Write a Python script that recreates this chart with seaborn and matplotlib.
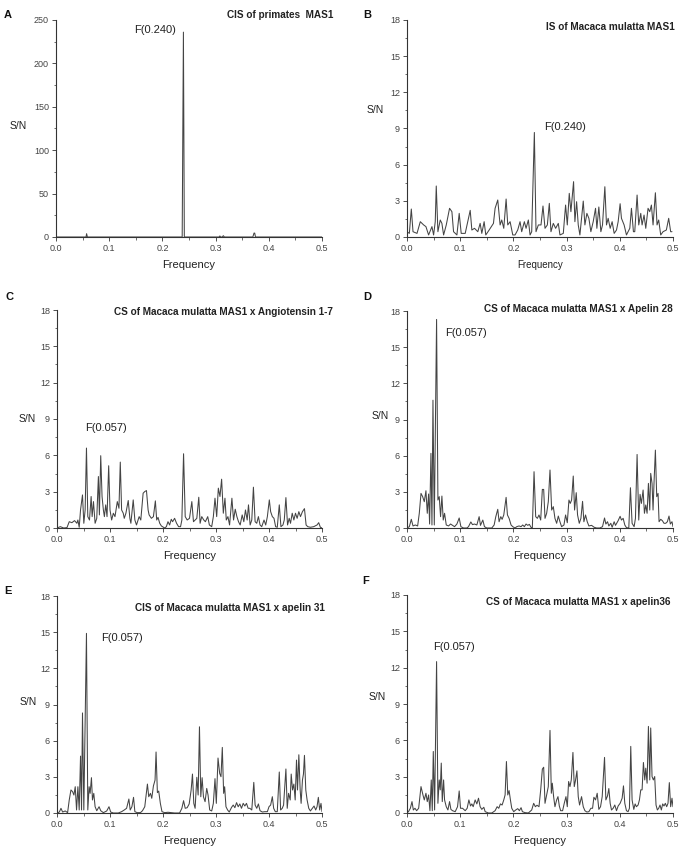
"""
Signal-to-noise spectra of MAS1 and its ligands (six panels)
"""

import matplotlib
matplotlib.use("Agg")
import matplotlib.pyplot as plt
from matplotlib.ticker import MultipleLocator
import seaborn as sns

sns.set_style("ticks")
plt.rcParams['font.family'] = ['Liberation Sans', 'DejaVu Sans']

# ---- data ----
freq_a = [0.0, 0.05, 0.0565, 0.0575, 0.059, 0.065, 0.2372, 0.2395, 0.2412, 0.30,
          0.3065, 0.308, 0.3095, 0.3125, 0.3145, 0.3165, 0.37, 0.3722, 0.3735, 0.375, 0.5]
sn_a = [0, 0, 0, 3.8, 0, 0, 0, 236, 0, 0,
        0, 1.2, 0, 0, 1.5, 0, 0, 4.5, 4.5, 0, 0]

freq_b = [0.0, 0.0044, 0.0081, 0.0113, 0.0188, 0.025, 0.0313, 0.0356, 0.0406, 0.0469,
          0.05, 0.0531, 0.055, 0.0581, 0.0625, 0.0656, 0.0688, 0.0738, 0.08, 0.0844,
          0.0875, 0.0938, 0.0981, 0.1019, 0.1094, 0.1188, 0.1219, 0.1269, 0.1331, 0.1375,
          0.1406, 0.145, 0.1481, 0.1544, 0.1625, 0.1656, 0.1706, 0.175, 0.1781, 0.1819,
          0.1863, 0.1894, 0.1938, 0.1988, 0.2031, 0.2081, 0.2125, 0.2156, 0.2206, 0.2238,
          0.2281, 0.2313, 0.2344, 0.2394, 0.2425, 0.2469, 0.2519, 0.2556, 0.2594, 0.2638,
          0.2675, 0.2706, 0.275, 0.2794, 0.2844, 0.2875, 0.2938, 0.2981, 0.3013, 0.305,
          0.3081, 0.3131, 0.3156, 0.3188, 0.3219, 0.325, 0.3313, 0.3344, 0.3381, 0.3419,
          0.3456, 0.35, 0.3544, 0.3569, 0.3606, 0.3644, 0.3675, 0.3719, 0.375, 0.3781,
          0.3819, 0.3856, 0.3894, 0.3938, 0.3969, 0.4006, 0.4031, 0.4081, 0.4125, 0.4188,
          0.4219, 0.4256, 0.4281, 0.4325, 0.4356, 0.4394, 0.4419, 0.4456, 0.4488, 0.4531,
          0.4563, 0.4594, 0.4625, 0.4669, 0.47, 0.4731, 0.4769, 0.4813, 0.4875, 0.4919,
          0.4956, 0.4981]
sn_b = [0.44, 0.30, 2.32, 0.44, 0.30, 1.27, 1.0, 0.86, 0.17, 0.86,
        0.17, 1.27, 4.23, 0.44, 1.41, 1.13, 0.17, 1.0, 2.38, 2.1,
        0.44, 0.17, 1.96, 0.3, 0.3, 2.21, 0.58, 0.72, 0.44, 1.13,
        0.3, 1.27, 0.17, 0.58, 1.13, 2.38, 3.07, 1.0, 1.41, 0.72,
        3.15, 1.0, 1.27, 0.17, 0.17, 0.58, 1.27, 0.44, 1.27, 0.72,
        1.41, 0.17, 0.44, 8.67, 0.44, 1.0, 1.0, 2.57, 0.72, 1.0,
        2.79, 0.44, 1.13, 0.72, 1.13, 0.17, 0.3, 2.65, 1.0, 3.62,
        2.1, 4.59, 1.27, 2.93, 1.0, 0.17, 2.98, 1.0, 1.96, 1.55,
        0.44, 1.27, 2.38, 0.72, 2.49, 0.44, 1.0, 4.17, 1.0, 1.55,
        0.72, 1.27, 0.3, 0.58, 1.27, 2.76, 1.55, 1.0, 0.17, 0.72,
        2.38, 0.44, 0.44, 3.48, 1.0, 1.96, 1.0, 1.82, 0.72, 2.38,
        2.1, 2.65, 1.0, 3.67, 1.0, 1.41, 0.17, 0.44, 0.58, 1.55,
        0.44, 0.44]

freq_c = [0.0, 0.0063, 0.0125, 0.0188, 0.0231, 0.0281, 0.0331, 0.0375, 0.0394, 0.0419,
          0.0444, 0.0481, 0.0506, 0.0531, 0.0556, 0.0581, 0.0613, 0.0644, 0.0663, 0.0688,
          0.0719, 0.075, 0.0781, 0.08, 0.0825, 0.085, 0.0875, 0.0894, 0.0919, 0.0944,
          0.0975, 0.1, 0.1031, 0.1063, 0.1094, 0.1138, 0.1169, 0.1194, 0.1219, 0.125,
          0.1269, 0.13, 0.1344, 0.1375, 0.1394, 0.1438, 0.1469, 0.15, 0.155, 0.1581,
          0.1625, 0.1656, 0.1688, 0.1719, 0.1738, 0.1781, 0.1819, 0.1856, 0.1881, 0.1906,
          0.1938, 0.1969, 0.2031, 0.2063, 0.2094, 0.2125, 0.2156, 0.2181, 0.2219, 0.2256,
          0.2294, 0.2331, 0.2356, 0.2388, 0.2419, 0.2456, 0.25, 0.2544, 0.2575, 0.2606,
          0.2638, 0.2675, 0.27, 0.2731, 0.2769, 0.28, 0.2844, 0.2875, 0.2919, 0.295,
          0.2981, 0.3013, 0.3044, 0.3075, 0.3106, 0.3138, 0.3169, 0.3194, 0.3225, 0.3256,
          0.33, 0.3331, 0.3363, 0.3394, 0.3425, 0.3456, 0.3494, 0.3525, 0.3556, 0.3588,
          0.3613, 0.3644, 0.3675, 0.3706, 0.3738, 0.3769, 0.38, 0.3831, 0.3863, 0.3906,
          0.3938, 0.3969, 0.4006, 0.4031, 0.4063, 0.4094, 0.4125, 0.4156, 0.4194, 0.4225,
          0.4263, 0.4288, 0.4319, 0.435, 0.4381, 0.4406, 0.4438, 0.4469, 0.45, 0.4531,
          0.4563, 0.4594, 0.4631, 0.4669, 0.47, 0.4731, 0.4781, 0.4844, 0.4906, 0.4938,
          0.4969, 0.5]
sn_c = [0, 0.11, 0, 0.03, 0.52, 0.44, 0.61, 0.39, 0.66, 0.06,
        1.49, 2.73, 0.39, 1.49, 6.6, 0.94, 0.66, 2.6, 0.94, 2.18,
        0.39, 0.8, 4.25, 1.08, 5.97, 2.6, 1.49, 0.94, 1.91, 0.94,
        5.14, 1.49, 0.66, 1.22, 0.94, 2.18, 1.63, 5.44, 1.49, 1.22,
        0.8, 1.22, 2.27, 0.8, 0.39, 2.32, 0.66, 0.25, 0.94, 0.66,
        2.87, 3.01, 3.09, 1.49, 1.08, 0.8, 0.94, 2.24, 0.66, 0.88,
        0.39, 0.17, 0, 0.11, 0.52, 0.25, 0.72, 0.52, 0.8, 0.39,
        0.11, 0.11, 0.66, 6.13, 0.94, 0.66, 0.8, 2.18, 0.52, 0.66,
        0.8, 2.54, 0.39, 0.94, 0.66, 0.52, 0.94, 0.25, 0.11, 0.94,
        2.46, 0.94, 3.29, 2.6, 4.03, 1.22, 2.46, 0.66, 0.94, 0.25,
        2.46, 0.66, 1.55, 0.94, 0.52, 0.25, 1.08, 0.52, 1.49, 0.66,
        1.91, 0.25, 0.66, 3.37, 0.52, 0.39, 0.94, 0.25, 0.11, 0.66,
        0.25, 0.94, 2.32, 1.35, 0.94, 0.8, 0.11, 0.06, 1.91, 0.11,
        0.25, 0.66, 2.51, 0.25, 0.8, 0.39, 1.22, 0.66, 1.22, 0.8,
        1.35, 0.94, 1.35, 1.6, 0.25, 0.11, 0.06, 0.11, 0.25, 0.44,
        0.06, 0]

freq_d = [0.0, 0.0044, 0.0081, 0.0113, 0.0156, 0.02, 0.0231, 0.0263, 0.0294, 0.0325,
          0.0356, 0.0381, 0.0406, 0.0425, 0.045, 0.0469, 0.0488, 0.0513, 0.0556, 0.0581,
          0.0606, 0.0631, 0.0656, 0.0681, 0.0706, 0.0738, 0.0781, 0.0819, 0.0856, 0.0894,
          0.0938, 0.0981, 0.1013, 0.1063, 0.1125, 0.1156, 0.12, 0.1231, 0.1269, 0.1313,
          0.1356, 0.1381, 0.1425, 0.1456, 0.15, 0.1594, 0.1638, 0.1669, 0.1706, 0.1731,
          0.1763, 0.1788, 0.1819, 0.1863, 0.1888, 0.1919, 0.1956, 0.1988, 0.2031, 0.2063,
          0.2106, 0.2144, 0.2175, 0.2206, 0.2238, 0.2269, 0.23, 0.2331, 0.2356, 0.2388,
          0.2419, 0.245, 0.2481, 0.2513, 0.2544, 0.2569, 0.2594, 0.2625, 0.2656, 0.2688,
          0.2719, 0.275, 0.2781, 0.2813, 0.2844, 0.2875, 0.2906, 0.295, 0.2981, 0.3013,
          0.3044, 0.3069, 0.3094, 0.3125, 0.315, 0.3181, 0.3206, 0.3238, 0.3269, 0.33,
          0.3325, 0.3356, 0.3388, 0.3419, 0.3469, 0.3519, 0.3563, 0.3625, 0.3675, 0.3713,
          0.3738, 0.3769, 0.3794, 0.3831, 0.3856, 0.3894, 0.3919, 0.3969, 0.4006, 0.4031,
          0.4063, 0.4094, 0.4125, 0.4169, 0.42, 0.4231, 0.4269, 0.4294, 0.4325, 0.4356,
          0.4381, 0.4406, 0.4438, 0.4463, 0.4488, 0.4513, 0.4538, 0.4563, 0.4581, 0.4606,
          0.4625, 0.4644, 0.4669, 0.4694, 0.4719, 0.4738, 0.4769, 0.48, 0.4831, 0.4863,
          0.4894, 0.4925, 0.495, 0.4981, 0.5]
sn_d = [0, 0.11, 0.72, 0.17, 0.25, 0.17, 1.22, 2.87, 2.6, 2.18,
        3.09, 1.22, 2.82, 0.33, 6.19, 0.25, 10.6, 0.25, 17.3, 2.32,
        2.6, 0.94, 2.65, 0.66, 1.22, 0.25, 0.17, 0.33, 0.22, 0.11,
        0.33, 0.83, 0.11, 0, 0, 0.11, 0.5, 0.28, 0.33, 0.25,
        0.94, 0.22, 0.66, 0.11, 0, 0, 0.25, 0.94, 1.55, 0.52,
        0.94, 0.72, 1.08, 2.54, 1.08, 0.8, 0.25, 0.11, 0, 0.11,
        0.17, 0.11, 0.25, 0.11, 0.33, 0.22, 0.3, 0.06, 0, 4.67,
        0.94, 0.8, 1.08, 0.66, 3.2, 3.2, 0.8, 1.22, 2.18, 4.81,
        1.49, 1.77, 0.8, 0.39, 0.99, 0.52, 0.11, 0.25, 1.08, 0.44,
        2.32, 2.04, 2.32, 4.31, 1.49, 2.93, 1.08, 0.39, 0.8, 2.21,
        0.52, 1.08, 0.52, 0.17, 0.22, 0.06, 0, 0, 0.11, 0.83,
        0.33, 0.52, 0.17, 0.39, 0.06, 0.52, 0.22, 0.61, 0.97, 0.66,
        0.8, 0.25, 0.03, 0, 3.34, 0.39, 0.11, 0.8, 6.1, 0.66,
        2.79, 2.04, 3.15, 1.22, 1.91, 1.22, 3.7, 1.49, 4.53, 3.7,
        1.49, 3.84, 6.46, 2.6, 2.87, 0.52, 0.72, 0.61, 0.39, 0.39,
        0.52, 0.99, 0.33, 0.52, 0.11]

freq_e = [0.0, 0.0044, 0.0075, 0.0106, 0.0156, 0.02, 0.0231, 0.0263, 0.0294, 0.0319,
          0.0344, 0.0369, 0.0394, 0.0419, 0.0444, 0.0463, 0.0481, 0.0506, 0.0556, 0.0581,
          0.0606, 0.0625, 0.065, 0.0669, 0.0694, 0.0719, 0.075, 0.0794, 0.0825, 0.0875,
          0.0938, 0.0981, 0.1013, 0.1063, 0.1156, 0.1219, 0.1269, 0.1313, 0.1356, 0.1381,
          0.1413, 0.1444, 0.1469, 0.1513, 0.1575, 0.1613, 0.1656, 0.1706, 0.1731, 0.1763,
          0.1788, 0.1819, 0.185, 0.1869, 0.1894, 0.1919, 0.195, 0.1981, 0.2031, 0.2094,
          0.2156, 0.2219, 0.2313, 0.2356, 0.2388, 0.2419, 0.2456, 0.2494, 0.2531, 0.2556,
          0.2581, 0.2606, 0.2638, 0.2663, 0.2688, 0.2713, 0.2738, 0.2763, 0.2794, 0.2825,
          0.285, 0.2881, 0.2919, 0.295, 0.2981, 0.3006, 0.3038, 0.3069, 0.3094, 0.3119,
          0.3144, 0.3163, 0.3188, 0.3219, 0.325, 0.3294, 0.3325, 0.3356, 0.3388, 0.3419,
          0.345, 0.3481, 0.3513, 0.3544, 0.3575, 0.3606, 0.3638, 0.3675, 0.3713, 0.3738,
          0.3769, 0.38, 0.3831, 0.3875, 0.3919, 0.3969, 0.4, 0.4031, 0.4063, 0.4088,
          0.4119, 0.4156, 0.4194, 0.4219, 0.425, 0.4275, 0.4319, 0.4344, 0.4369, 0.44,
          0.4419, 0.4444, 0.4469, 0.4494, 0.4519, 0.4538, 0.4563, 0.4588, 0.4606, 0.4631,
          0.465, 0.4669, 0.4694, 0.4719, 0.475, 0.4781, 0.4819, 0.485, 0.4881, 0.4906,
          0.4931, 0.4956, 0.4981, 0.5]
sn_e = [0, 0.08, 0.39, 0.08, 0.17, 0.03, 1.08, 1.91, 1.77, 1.49,
        2.18, 0.25, 2.18, 0.25, 4.72, 0.25, 8.3, 0.25, 14.9, 0.25,
        2.18, 1.63, 2.93, 1.08, 1.63, 0.52, 0.19, 0.52, 0.19, 0.03,
        0.17, 0.52, 0.08, 0, 0, 0.11, 0.25, 0.39, 1.16, 0.25,
        0.52, 1.3, 0.11, 0.03, 0.03, 0.19, 0.52, 2.4, 1.35, 1.63,
        1.22, 2.24, 2.73, 5.06, 1.69, 1.82, 0.8, 0.11, 0.03, 0.06,
        0.03, 0, 0, 0.39, 1.02, 0.39, 0.44, 0.75, 1.91, 3.23,
        0.8, 0.39, 2.96, 1.49, 7.15, 1.35, 2.93, 1.35, 0.94, 2.04,
        1.49, 0.25, 0.17, 0.8, 2.85, 0.8, 4.56, 3.29, 3.01, 5.44,
        1.63, 2.18, 0.52, 0.25, 0.08, 0.47, 0.66, 0.44, 0.86, 0.52,
        0.75, 0.39, 0.8, 0.58, 0.8, 0.39, 0.39, 0.25, 2.54, 0.66,
        0.39, 0.75, 0.19, 0.08, 0.11, 0.11, 0.52, 0.66, 1.35, 0.39,
        0.11, 0.11, 3.4, 0.25, 0.39, 0.66, 3.65, 0.39, 1.63, 1.08,
        3.23, 1.91, 2.4, 1.08, 4.39, 1.91, 4.83, 1.91, 0.8, 2.73,
        3.23, 4.78, 1.91, 1.08, 0.39, 0.17, 0.39, 0.58, 0.25, 0.52,
        1.3, 0.25, 0.8, 0.11]

freq_f = [0.0, 0.0031, 0.0063, 0.0094, 0.0119, 0.015, 0.0181, 0.0219, 0.0263, 0.03,
          0.0325, 0.0356, 0.0381, 0.0406, 0.0431, 0.0456, 0.0475, 0.0494, 0.0519, 0.0556,
          0.0581, 0.0606, 0.0625, 0.0644, 0.0663, 0.0688, 0.0706, 0.0738, 0.0769, 0.08,
          0.0825, 0.0856, 0.0906, 0.095, 0.0981, 0.1006, 0.1044, 0.1094, 0.1131, 0.1163,
          0.1194, 0.1219, 0.1244, 0.1281, 0.1313, 0.1344, 0.1375, 0.1406, 0.1444, 0.1469,
          0.1531, 0.1594, 0.1656, 0.1694, 0.1725, 0.1756, 0.1788, 0.1819, 0.1844, 0.1869,
          0.1894, 0.1919, 0.1944, 0.1969, 0.2006, 0.2044, 0.2081, 0.2113, 0.2144, 0.2169,
          0.2219, 0.2281, 0.2344, 0.2381, 0.2413, 0.2444, 0.2481, 0.2513, 0.2544, 0.2569,
          0.2594, 0.2625, 0.2656, 0.2688, 0.2713, 0.2731, 0.2756, 0.2781, 0.2813, 0.2838,
          0.2863, 0.2888, 0.2925, 0.2956, 0.2988, 0.3013, 0.3038, 0.3063, 0.3088, 0.3119,
          0.3144, 0.3169, 0.3194, 0.3219, 0.3244, 0.3281, 0.3313, 0.3344, 0.3381, 0.3419,
          0.3456, 0.3488, 0.3513, 0.3544, 0.3575, 0.3606, 0.3638, 0.3669, 0.3713, 0.3738,
          0.3769, 0.3794, 0.3819, 0.3844, 0.3875, 0.3906, 0.3938, 0.3969, 0.4006, 0.4044,
          0.4069, 0.4094, 0.4125, 0.4156, 0.4181, 0.4206, 0.4231, 0.4263, 0.4288, 0.4313,
          0.4344, 0.4369, 0.4394, 0.4419, 0.4444, 0.4469, 0.4488, 0.4513, 0.4538, 0.4563,
          0.4581, 0.4606, 0.4631, 0.4656, 0.4681, 0.4706, 0.4731, 0.4756, 0.4781, 0.4806,
          0.4831, 0.4856, 0.4881, 0.4906, 0.4931, 0.4956, 0.4981, 0.5]
sn_f = [0, 0.14, 0.39, 0.94, 0.25, 0.39, 0.19, 0.39, 2.18, 1.49,
        1.08, 1.63, 0.94, 1.49, 0.19, 2.73, 0.19, 5.08, 0.25, 12.5,
        0.8, 2.73, 1.91, 4.12, 0.94, 2.73, 1.08, 0.52, 0.25, 0.94,
        0.3, 0.19, 0.11, 0.52, 1.82, 0.39, 0.39, 0.19, 0.39, 1.08,
        0.58, 0.75, 0.52, 1.08, 0.75, 1.22, 0.52, 0.3, 0.47, 0.11,
        0, 0, 0.19, 0.52, 0.39, 0.75, 0.66, 1.08, 1.49, 4.25,
        1.49, 1.85, 1.08, 0.39, 0.11, 0.25, 0.36, 0.19, 0.44, 0.11,
        0.03, 0, 0.25, 0.8, 0.52, 0.64, 0.52, 1.91, 3.62, 3.78,
        0.8, 1.49, 2.18, 6.82, 1.63, 2.46, 1.35, 0.52, 1.08, 1.35,
        0.58, 0.19, 0.19, 0.8, 1.35, 0.52, 2.6, 2.18, 2.73, 5.0,
        2.18, 2.73, 3.48, 1.35, 0.66, 1.35, 0.52, 0.19, 0.08, 0.11,
        0.39, 0.39, 1.3, 1.08, 1.63, 0.3, 0.52, 1.35, 4.59, 1.08,
        1.41, 2.02, 0.8, 0.25, 0.39, 0.66, 0.19, 0.58, 0.8, 1.22,
        2.24, 0.8, 0.19, 0.11, 0.39, 5.5, 1.08, 0.3, 0.75, 0.52,
        0.66, 1.08, 1.91, 1.91, 4.17, 2.73, 3.7, 2.46, 7.15, 2.73,
        7.02, 3.01, 2.73, 3.01, 0.66, 0.25, 0.39, 0.66, 0.25, 0.75,
        0.58, 0.8, 0.52, 0.8, 2.51, 0.52, 1.22, 0.52]

x_ticks = [0.0, 0.1, 0.2, 0.3, 0.4, 0.5]
peak_labels = ['F(0.240)', 'F(0.240)', 'F(0.057)', 'F(0.057)', 'F(0.057)', 'F(0.057)']
titles = ['CIS of primates  MAS1',
          'IS of Macaca mulatta MAS1',
          'CS of Macaca mulatta MAS1 x Angiotensin 1-7',
          'CS of Macaca mulatta MAS1 x Apelin 28',
          'CIS of Macaca mulatta MAS1 x apelin 31',
          'CS of Macaca mulatta MAS1 x apelin36']
letters = ['A', 'B', 'C', 'D', 'E', 'F']

W, H = 680, 850
LINE = '#444444'

# panel layout in pixels: axes box (left, top, right, bottom)
boxes = [(56, 20, 322, 237), (407, 20, 673, 237),
         (57, 310, 322, 528), (407, 311, 673, 528),
         (57, 596, 322, 813), (407, 595, 673, 813)]
letter_pos = [(8, 15), (367, 15), (10, 297), (367, 297), (8, 591), (366, 581)]
title_pos = [(333, 15), (675, 27), (333, 312), (673, 309), (325, 608), (670, 602)]
# peak label: x, y in data, alignment
label_pos = [(0.226, 238, 'right'), (0.2575, 9.15, 'left'), (0.053, 8.25, 'left'),
             (0.072, 16.2, 'left'), (0.0825, 14.5, 'left'), (0.05, 13.7, 'left')]
sn_pos = [(-0.143, 0.51), (-0.12, 0.585), (-0.113, 0.50),
          (-0.10, 0.514), (-0.109, 0.51), (-0.113, 0.53)]
freq_label_size = [8, 7, 8, 8, 8, 8]

series = [(freq_a, sn_a), (freq_b, sn_b), (freq_c, sn_c),
          (freq_d, sn_d), (freq_e, sn_e), (freq_f, sn_f)]

fig = plt.figure(figsize=(W / 100, H / 100), dpi=100)

for i, (fx, sy) in enumerate(series):
    l, t, r, b = boxes[i]
    ax = fig.add_axes([l / W, 1 - b / H, (r - l) / W, (b - t) / H])
    sns.lineplot(x=fx, y=sy, ax=ax, color=LINE, linewidth=0.75)

    ax.set_xlim(0, 0.5)
    ax.set_xticks(x_ticks)
    ax.set_xticklabels([f'{v:.1f}' for v in x_ticks])
    ax.xaxis.set_minor_locator(MultipleLocator(0.05))
    if i == 0:
        ax.set_ylim(0, 250)
        ax.set_yticks(range(0, 251, 50))
        ax.yaxis.set_minor_locator(MultipleLocator(25))
    else:
        ax.set_ylim(0, 18)
        ax.set_yticks(range(0, 19, 3))
        ax.yaxis.set_minor_locator(MultipleLocator(1.5))

    sns.despine(ax=ax)
    for s in ['left', 'bottom']:
        ax.spines[s].set_linewidth(0.8)
        ax.spines[s].set_color('#333333')
    ax.tick_params(which='major', direction='out', length=3, width=0.6,
                   labelsize=6.5, pad=2, colors='#333333', labelcolor='#444444')
    ax.tick_params(which='minor', direction='out', length=1.8, width=0.5, colors='#333333')

    ax.set_xlabel('Frequency', fontsize=freq_label_size[i], color='#222222', va='center')
    ax.xaxis.set_label_coords(0.5, -0.13)
    ax.set_ylabel('S/N', fontsize=7.5, rotation=0, ha='center', va='center', color='#222222')
    ax.yaxis.set_label_coords(*sn_pos[i])

    px, py, ha = label_pos[i]
    ax.text(px, py, peak_labels[i], fontsize=8, ha=ha, va='center', color='#222222')

    tx, ty = title_pos[i]
    fig.text(tx / W, 1 - ty / H, titles[i], fontsize=7.2, fontweight='bold',
             ha='right', va='center', color='#222222')
    lx, ly = letter_pos[i]
    fig.text(lx / W, 1 - ly / H, letters[i], fontsize=8, fontweight='bold',
             ha='center', va='center', color='#111111')

plt.savefig('out.png', dpi=100)
plt.close()
